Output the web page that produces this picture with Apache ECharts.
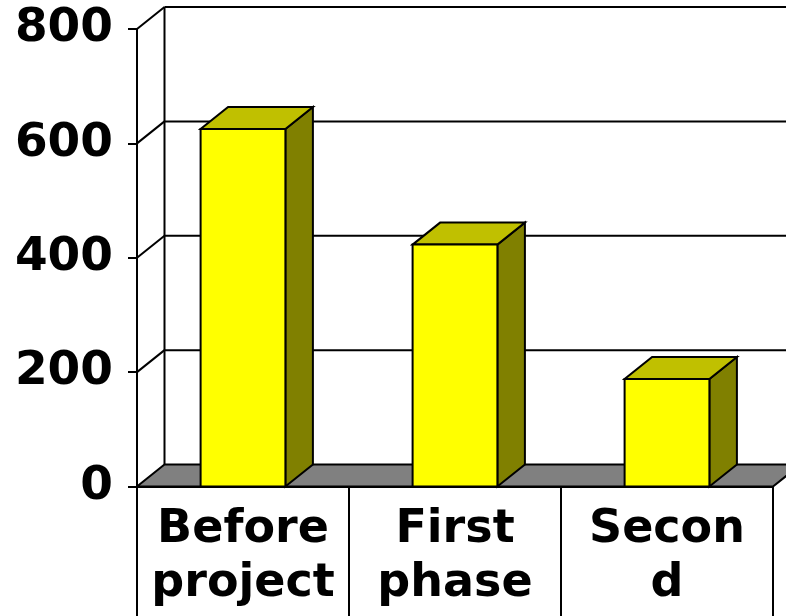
<!DOCTYPE html>
<html>
<head>
<meta charset="utf-8">
<script src="https://cdn.jsdelivr.net/npm/echarts@6/dist/echarts.min.js"></script>
<style>
  html, body { margin: 0; padding: 0; background: #ffffff; }
  #chart { width: 786px; height: 616px; }
</style>
</head>
<body>
<div id="chart"></div>
<script>
// Chart data
const categories = ['Before\nproject', 'First\nphase', 'Secon\nd'];
const values = [625, 423, 188];
const yTicks = [0, 200, 400, 600, 800];

// Oblique projection of the depth axis (pixels)
const DEPTH_X = 27.5;
const DEPTH_Y = -22;
const BAR_RATIO = 0.4;
const LINE = '#000000';
const LW = 2;

const chart = echarts.init(document.getElementById('chart'), null, { renderer: 'canvas' });

// Back wall, side-wall gridlines and the grey floor
function renderWalls(params, api) {
  const cs = params.coordSys;
  const v = api.value(0);
  const y = api.coord([0, v])[1];
  const y0 = api.coord([0, 0])[1];
  const x0 = cs.x;
  const x1 = cs.x + cs.width;
  const children = [];
  if (v === 0) {
    children.push({
      type: 'polygon',
      shape: { points: [[x0, y0], [x1, y0], [x1 + DEPTH_X, y0 + DEPTH_Y], [x0 + DEPTH_X, y0 + DEPTH_Y]] },
      style: { fill: '#808080', stroke: LINE, lineWidth: LW, lineJoin: 'miter' },
      z2: 5
    });
  } else {
    children.push({
      type: 'line',
      shape: { x1: x0, y1: y, x2: x0 + DEPTH_X, y2: y + DEPTH_Y },
      style: { stroke: LINE, lineWidth: LW }
    });
    children.push({
      type: 'line',
      shape: { x1: x0 + DEPTH_X, y1: y + DEPTH_Y, x2: x1 + DEPTH_X, y2: y + DEPTH_Y },
      style: { stroke: LINE, lineWidth: LW }
    });
  }
  if (v === yTicks[yTicks.length - 1]) {
    children.push({
      type: 'line',
      shape: { x1: x0 + DEPTH_X, y1: y + DEPTH_Y, x2: x0 + DEPTH_X, y2: y0 + DEPTH_Y },
      style: { stroke: LINE, lineWidth: LW }
    });
  }
  return { type: 'group', children: children };
}

// 3D-looking column: front face, top face and right side face
function renderBar(params, api) {
  const idx = api.value(0);
  const top = api.coord([idx, api.value(1)]);
  const base = api.coord([idx, 0]);
  const bw = api.size([1, 0])[0] * BAR_RATIO;
  const xl = top[0] - bw / 2;
  const xr = top[0] + bw / 2;
  const yt = top[1];
  const yb = base[1];
  const stroke = { stroke: LINE, lineWidth: LW, lineJoin: 'miter' };
  return {
    type: 'group',
    children: [
      {
        type: 'polygon',
        shape: { points: [[xr, yt], [xr + DEPTH_X, yt + DEPTH_Y], [xr + DEPTH_X, yb + DEPTH_Y], [xr, yb]] },
        style: Object.assign({ fill: '#808000' }, stroke)
      },
      {
        type: 'polygon',
        shape: { points: [[xl, yt], [xr, yt], [xr + DEPTH_X, yt + DEPTH_Y], [xl + DEPTH_X, yt + DEPTH_Y]] },
        style: Object.assign({ fill: '#C0C000' }, stroke)
      },
      {
        type: 'rect',
        shape: { x: xl, y: yt, width: bw, height: yb - yt },
        style: Object.assign({ fill: '#FFFF00' }, stroke)
      }
    ]
  };
}

const option = {
  backgroundColor: '#ffffff',
  animation: false,
  grid: { left: 137, top: 29, width: 636, height: 457.5, containLabel: false },
  xAxis: {
    type: 'category',
    data: categories,
    boundaryGap: true,
    axisLine: { show: true, lineStyle: { color: LINE, width: LW } },
    axisTick: { show: true, length: 135, alignWithLabel: false, lineStyle: { color: LINE, width: LW } },
    axisLabel: {
      interval: 0,
      margin: 17,
      color: '#000000',
      fontFamily: 'DejaVu Sans',
      fontWeight: 'bold',
      fontSize: 46,
      lineHeight: 54
    },
    splitLine: { show: false }
  },
  yAxis: {
    type: 'value',
    min: 0,
    max: 800,
    interval: 200,
    axisLine: { show: true, lineStyle: { color: LINE, width: LW } },
    axisTick: { show: true, length: 9, lineStyle: { color: LINE, width: LW } },
    axisLabel: {
      margin: 24,
      padding: [6, 0, 0, 0],
      color: '#000000',
      fontFamily: 'DejaVu Sans',
      fontWeight: 'bold',
      fontSize: 47
    },
    splitLine: { show: false }
  },
  series: [
    {
      type: 'custom',
      name: 'walls',
      renderItem: renderWalls,
      data: yTicks.map(function (v) { return [v]; }),
      encode: { y: 0 },
      silent: true,
      clip: false,
      z: 1
    },
    {
      type: 'custom',
      name: 'columns',
      renderItem: renderBar,
      data: values.map(function (v, i) { return [i, v]; }),
      encode: { x: 0, y: 1 },
      clip: false,
      z: 3
    }
  ]
};

chart.setOption(option);
</script>
</body>
</html>
